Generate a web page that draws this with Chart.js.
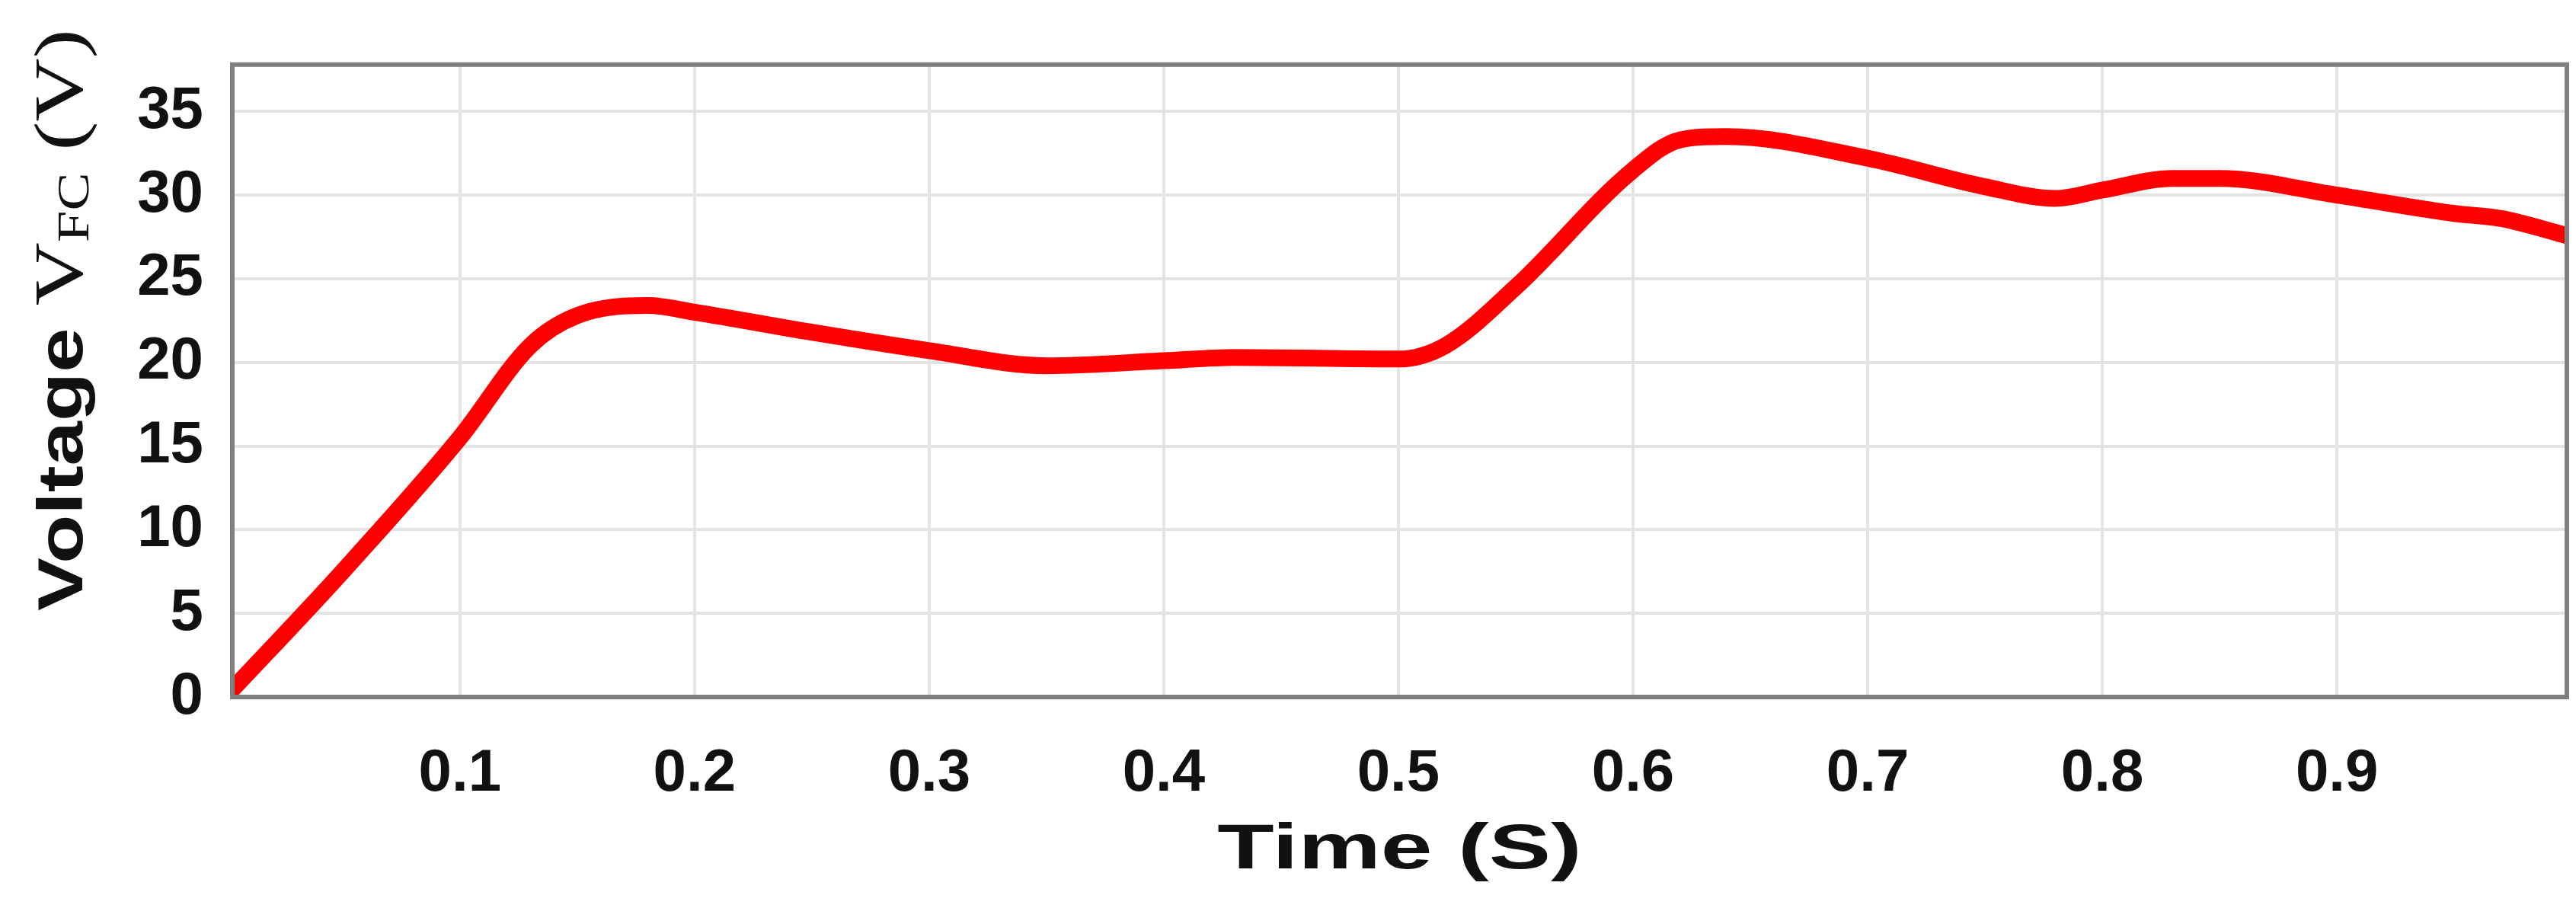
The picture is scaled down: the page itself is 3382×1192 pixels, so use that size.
<!DOCTYPE html>
<html><head><meta charset="utf-8">
<script src="https://cdn.jsdelivr.net/npm/chart.js@4"></script>
<style>html,body{margin:0;background:#fff}#w{width:3382px;height:1192px}</style>
</head><body><div id="w"><canvas id="c"></canvas></div>
<script>
const timeS = [0,0.05,0.1,0.13,0.15,0.18,0.2,0.25,0.3,0.35,0.4,0.43,0.5,0.52,0.55,0.6,0.62,0.64,0.7,0.75,0.78,0.8,0.83,0.85,0.9,0.95,0.97,1.0];
const voltage = [0,7.5,15.5,21,22.8,23.4,23,21.8,20.7,19.8,20.1,20.3,20.2,21,24.5,31.5,33.3,33.5,32.2,30.5,29.8,30.3,31,31,30,28.9,28.6,27.5];
const xTicks = [0.1,0.2,0.3,0.4,0.5,0.6,0.7,0.8,0.9];
const yTicks = [0,5,10,15,20,25,30,35];

const F = '"Liberation Sans", Arial, sans-serif';
const titles = {
  id:'titles',
  afterDraw(ch){
    const c = ch.ctx; c.save(); c.fillStyle='#111';
    c.font = 'bold 84px '+F; c.textAlign='center'; c.textBaseline='middle';
    const xa = ch.scales.x;
    c.save(); c.translate((xa.left+xa.right)/2, 1117); c.scale(1.45,1); c.fillText('Time (S)', 0, 0); c.restore();
    c.translate(78, 420);
    c.rotate(-Math.PI/2);
    c.scale(1.25,1);
    const p1='Voltage ', p2='V', p3='FC', p4=' (V)';
    const f1='bold 84px '+F, f2='92px "Liberation Serif", serif', f3='60px "Liberation Serif", serif';
    c.font=f1; const w1=c.measureText(p1).width;
    c.font=f2; const w2=c.measureText(p2).width, w4=c.measureText(p4).width;
    c.font=f3; const w3=c.measureText(p3).width;
    let x=-(w1+w2+w3+w4)/2; c.textAlign='left'; c.textBaseline='alphabetic';
    c.font=f1; c.fillText(p1,x,30); x+=w1;
    c.font=f2; c.fillText(p2,x,30); x+=w2;
    c.font=f3; c.fillText(p3,x,38); x+=w3;
    c.font=f2; c.fillText(p4,x,30);
    c.restore();
  }
};
new Chart(document.getElementById('c'),{
  type:'line',
  data:{datasets:[{data:timeS.map((t,i)=>({x:t,y:voltage[i]})),borderColor:'#ff0000',borderWidth:22,pointRadius:0,cubicInterpolationMode:'monotone',borderCapStyle:'round'}]},
  options:{responsive:true,maintainAspectRatio:false,animation:false,
    layout:{padding:{top:-27,right:12,left:0,bottom:0}},
    plugins:{legend:{display:false},tooltip:{enabled:false}},
    scales:{
      x:{type:'linear',min:0.003,max:0.998,
        afterBuildTicks:a=>{a.ticks=xTicks.map(v=>({value:v}));},
        afterFit:a=>{a.height=277;},
        grid:{color:'#e4e4e4',lineWidth:4,drawTicks:false},
        border:{color:'#808080',width:6},
        ticks:{padding:55,color:'#111',font:{family:F,weight:'bold',size:78},callback:v=>v.toFixed(1)}},
      y:{min:0,max:37.8,
        afterBuildTicks:a=>{a.ticks=yTicks.map(v=>({value:v}));},
        afterFit:a=>{a.width=305;},
        grid:{color:'#e4e4e4',lineWidth:4,drawTicks:false},
        border:{color:'#808080',width:6},
        ticks:{padding:38,color:'#111',font:{family:F,weight:'bold',size:78}}}
    }},
  plugins:[titles,{id:'frame',afterDraw(ch){const c=ch.ctx,a=ch.chartArea;c.save();c.strokeStyle='#808080';c.lineWidth=6;c.strokeRect(a.left,a.top,a.right-a.left,a.bottom-a.top);c.restore();}}]
});
</script></body></html>
